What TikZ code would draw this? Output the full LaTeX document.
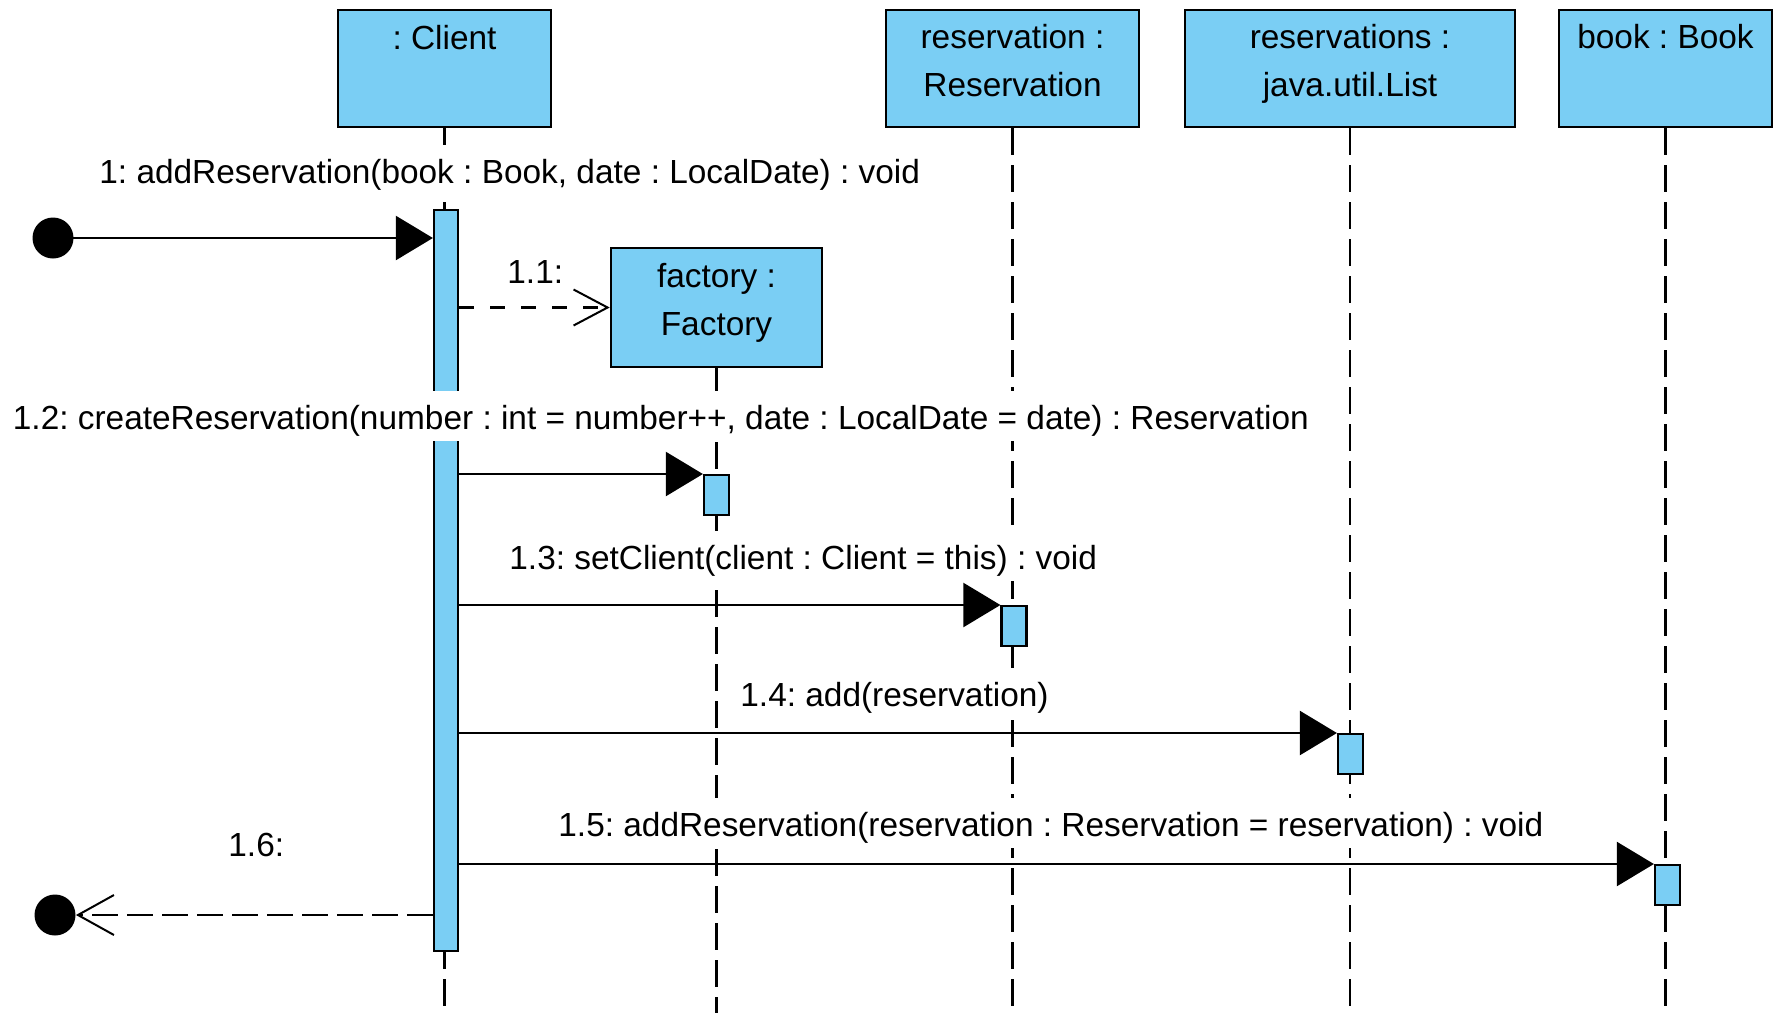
\documentclass[tikz,border=0pt]{standalone}
\usepackage{fontspec}
\setmainfont{Liberation Sans}
\usetikzlibrary{arrows.meta,calc}
\definecolor{vpblue}{RGB}{122,206,244}
\frenchspacing
\begin{document}
\begin{tikzpicture}[x=0.5pt,y=-0.5pt,
  font=\fontsize{16.7pt}{20pt}\selectfont,
  objbox/.style={draw=black, line width=1.3pt, fill=vpblue, inner sep=0pt},
  actbar/.style={draw=black, line width=1.1pt, fill=vpblue, inner sep=0pt, minimum width=12.5pt, minimum height=20pt},
  lifeline/.style={line width=1.1pt, dash pattern=on 13.5pt off 5pt},
  msg/.style={line width=1.1pt, -{Triangle[length=18.5pt,width=22pt]}},
  retmsg/.style={line width=1.1pt, dash pattern=on 13pt off 4.5pt, -{Straight Barb[length=18pt,width=20pt,line width=1pt]}},
  createmsg/.style={line width=1.1pt, dash pattern=on 7.5pt off 8pt, -{Straight Barb[length=17pt,width=18pt,line width=1pt]}},
  enddot/.style={circle, fill=black, minimum size=20.5pt, inner sep=0pt},
  lbl/.style={fill=white, inner xsep=0pt, inner ysep=1pt, text height=18pt, text depth=5pt, anchor=base west},
  boxtxt/.style={anchor=base, inner sep=0pt}
]
\useasboundingbox (0,0) rectangle (1777,1013);

% object boxes
\node[objbox, minimum width=106.5pt, minimum height=58.5pt] (client) at (444.5,68.5) {};
\node[objbox, minimum width=126.5pt, minimum height=58.5pt] (resv) at (1012.5,68.5) {};
\node[objbox, minimum width=165pt, minimum height=58.5pt] (list) at (1350,68.5) {};
\node[objbox, minimum width=106.5pt, minimum height=58.5pt] (book) at (1665.5,68.5) {};
\node[objbox, minimum width=105.5pt, minimum height=59.5pt] (factory) at (716.5,307.5) {};

\node[boxtxt] (clientT) at ($(client.north)+(0,41)$) {: Client};
\node[boxtxt] (resvT1) at ($(resv.north)+(0,40)$) {reservation :};
\node[boxtxt] (resvT2) at ($(resv.north)+(0,88)$) {Reservation};
\node[boxtxt] (listT1) at ($(list.north)+(0,40)$) {reservations :};
\node[boxtxt] (listT2) at ($(list.north)+(0,88)$) {java.util.List};
\node[boxtxt] (bookT) at ($(book.north)+(0,40)$) {book : Book};
\node[boxtxt] (factT1) at ($(factory.north)+(0,41)$) {factory :};
\node[boxtxt] (factT2) at ($(factory.north)+(0,89)$) {Factory};

% lifeline ends
\coordinate (clientE) at (client.south |- 0,1013);
\coordinate (resvE) at (resv.south |- 0,1013);
\coordinate (listE) at (list.south |- 0,1013);
\coordinate (bookE) at (book.south |- 0,1013);
\coordinate (factE) at (factory.south |- 0,1013);

\draw[lifeline] (client.south) -- (clientE);
\draw[lifeline] (resv.south) -- (resvE);
\draw[lifeline] (list.south) -- (listE);
\draw[lifeline] (book.south) -- (bookE);
\draw[lifeline] (factory.south) -- (factE);

% activation bars
\node[actbar, minimum width=12pt, minimum height=370.5pt, anchor=north] (clientact) at (446,209) {};
\node[actbar, anchor=north] (factact) at (716.5,474) {};
\node[actbar, anchor=north] (resvact) at (1014,605) {};
\node[actbar, anchor=north] (listact) at (1350.5,733) {};
\node[actbar, anchor=north] (bookact) at (1667.5,864) {};

% start / end points
\node[enddot] (start) at (53,238) {};
\node[enddot] (finish) at (55,915) {};

% messages
\draw[msg] (start.center) -- (clientact.west |- start.center);
\draw[createmsg] (clientact.east |- factory.west) -- (factory.west);
\draw[msg] (clientact.east |- factact.north west) -- (factact.north west);
\draw[msg] (clientact.east |- resvact.north west) -- (resvact.north west);
\draw[msg] (clientact.east |- listact.north west) -- (listact.north west);
\draw[msg] (clientact.east |- bookact.north west) -- (bookact.north west);
\draw[retmsg] (clientact.west |- finish.east) -- (finish.east);

% labels
\node[lbl] (m1) at (99,183) {1: addReservation(book : Book, date : LocalDate) : void};
\node[lbl] (m11) at (507,283) {1.1:};
\node[lbl] (m12) at (12.5,429) {1.2: createReservation(number : int = number++, date : LocalDate = date) : Reservation};
\node[lbl] (m13) at (509,569) {1.3: setClient(client : Client = this) : void};
\node[lbl] (m14) at (740,706) {1.4: add(reservation)};
\node[lbl] (m15) at (558,836) {1.5: addReservation(reservation : Reservation = reservation) : void};
\node[lbl] (m16) at (228,856) {1.6:};
\end{tikzpicture}
\end{document}
